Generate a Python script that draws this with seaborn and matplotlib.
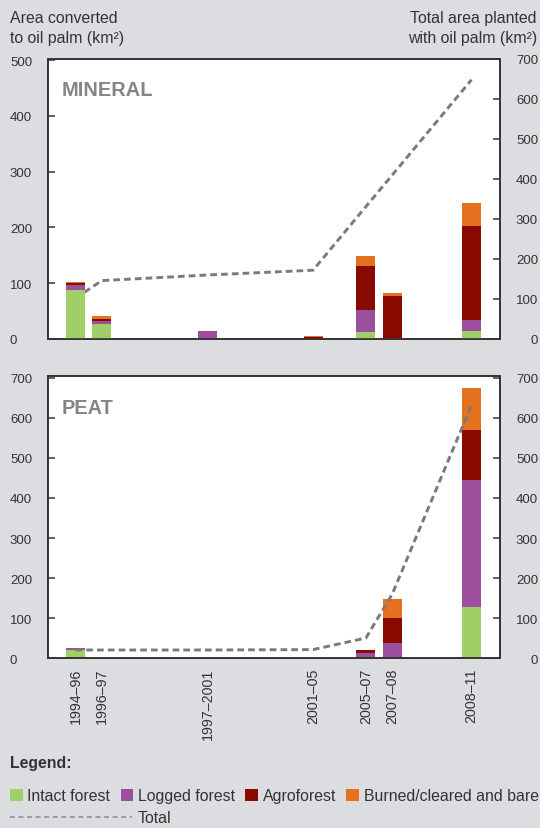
import numpy as np
import seaborn as sns
import matplotlib.pyplot as plt
from matplotlib.patches import Patch
from matplotlib.lines import Line2D

# periods on the x axis, placed at their end year
periods    = ['1994–96', '1996–97', '1997–2001', '2001–05', '2005–07', '2007–08', '2008–11']
period_end = [1996, 1997, 2001, 2005, 2007, 2008, 2011]

# area converted to oil palm (km2), left axis
mineral_intact = [88, 27, 0, 0, 13, 0, 14]
mineral_logged = [9, 5, 15, 0, 39, 0, 20]
mineral_agro   = [4, 4, 0, 4, 78, 77, 169]
mineral_burned = [1.5, 5, 0, 2, 18, 6, 40]

peat_intact = [20, 0, 0, 0, 0, 0, 128]
peat_logged = [5, 0, 0, 0, 13, 38, 318]
peat_agro   = [0, 0, 0, 0, 8, 63, 125]
peat_burned = [0, 0, 0, 0, 0, 47, 103]

# total area planted with oil palm (km2), right axis
mineral_total = [102, 146, 160, 172, 331, 410, 648]
peat_total    = [20, 20, 20, 21, 50, 160, 632]

classes = ['Intact forest', 'Logged forest', 'Agroforest', 'Burned/cleared and bare']
colours = ['#a0cf67', '#9b4f9c', '#8b0a00', '#e5701e']

bg   = '#dcdde0'
dark = '#333333'

sns.set_theme(style='white')
plt.rcParams['font.family'] = ['Liberation Sans', 'DejaVu Sans']

fig = plt.figure(figsize=(5.4, 8.29), dpi=100, facecolor=bg)
W, H = 540, 829


def draw_panel(box, layers, total, left_max, right_max, left_ticks, name, line_behind, show_x):
    x0, y0, x1, y1 = box
    ax = fig.add_axes([x0 / W, 1 - y1 / H, (x1 - x0) / W, (y1 - y0) / H])
    tw = ax.twinx()

    # stacked bars: draw cumulative tops, tallest first
    cum  = np.zeros(len(period_end))
    tops = []
    for vals, col in zip(layers, colours):
        cum = cum + np.asarray(vals, dtype=float)
        tops.append((cum.copy(), col))
    for top, col in reversed(tops):
        sns.barplot(x=period_end, y=top, native_scale=True, width=0.72, color=col,
                    saturation=1, errorbar=None, linewidth=0, edgecolor='none', ax=ax)

    sns.lineplot(x=period_end, y=total, ax=tw, color='#7a7a7a', lw=2.1,
                 linestyle=(0, (2.3, 1.4)), legend=False)

    if line_behind:
        ax.set_zorder(tw.get_zorder() + 1)
        ax.patch.set_visible(False)
        tw.patch.set_visible(True)
        tw.patch.set_facecolor('white')
    else:
        ax.set_facecolor('white')

    ax.set_xlim(1994.96, 2012.08)
    ax.set_ylim(0, left_max)
    tw.set_ylim(0, right_max)

    ax.set_yticks(left_ticks)
    tw.set_yticks(range(0, 701, 100))
    ax.tick_params(axis='y', direction='in', length=5, width=1.1, color=dark,
                   labelsize=9.5, labelcolor=dark, pad=27.4, left=True)
    tw.tick_params(axis='y', direction='in', length=5, width=1.1, color=dark,
                   labelsize=9.5, labelcolor=dark, pad=27.4, right=True)
    plt.setp(ax.get_yticklabels(), ha='left')
    plt.setp(tw.get_yticklabels(), ha='right')

    if show_x:
        ax.set_xticks(period_end)
        ax.set_xticklabels(periods, rotation=90, fontsize=10.3, color=dark)
        ax.tick_params(axis='x', length=0, pad=7)
    else:
        ax.set_xticks([])

    for a in (ax, tw):
        a.set_xlabel('')
        a.set_ylabel('')
        for s in a.spines.values():
            s.set_color(dark)
            s.set_linewidth(1.2)

    ax.text(0.031, 0.89, name, transform=ax.transAxes, fontsize=14.4,
            fontweight='bold', color='#858585', va='center', ha='left', zorder=10)
    return ax


draw_panel((48, 60, 500, 340),
           [mineral_intact, mineral_logged, mineral_agro, mineral_burned],
           mineral_total, 502, 700, range(0, 501, 100), 'MINERAL', True, False)
draw_panel((48, 377, 500, 659),
           [peat_intact, peat_logged, peat_agro, peat_burned],
           peat_total, 705, 705, range(0, 701, 100), 'PEAT', False, True)

# axis titles
fig.text(10 / W, 1 - 28.5 / H, 'Area converted\nto oil palm (km²)', ha='left', va='center',
         fontsize=11.4, color=dark, linespacing=1.4)
fig.text(537 / W, 1 - 28.5 / H, 'Total area planted\nwith oil palm (km²)', ha='right', va='center',
         multialignment='right', fontsize=11.4, color=dark, linespacing=1.4)

# legend
fig.text(10 / W, 1 - 764 / H, 'Legend:', ha='left', va='center', fontsize=11.4,
         fontweight='bold', color=dark)
patches = [Patch(facecolor=c, edgecolor='none') for c in colours]
leg1 = fig.legend(patches, classes, loc='center left', bbox_to_anchor=(10 / W, 1 - 797 / H),
                  ncol=4, frameon=False, fontsize=11.4, handlelength=0.8, handleheight=0.8,
                  handletextpad=0.3, columnspacing=0.65, borderpad=0, borderaxespad=0)
for t in leg1.get_texts():
    t.set_color(dark)
total_handle = Line2D([], [], color='#8a8a8a', lw=1.1, linestyle=(0, (3.2, 2.4)))
leg2 = fig.legend([total_handle], ['Total'], loc='center left', bbox_to_anchor=(10 / W, 1 - 819 / H),
                  frameon=False, fontsize=11.4, handlelength=7.7, handletextpad=0.38,
                  borderpad=0, borderaxespad=0)
for t in leg2.get_texts():
    t.set_color(dark)

fig.savefig('out.png', dpi=100, facecolor=bg)
